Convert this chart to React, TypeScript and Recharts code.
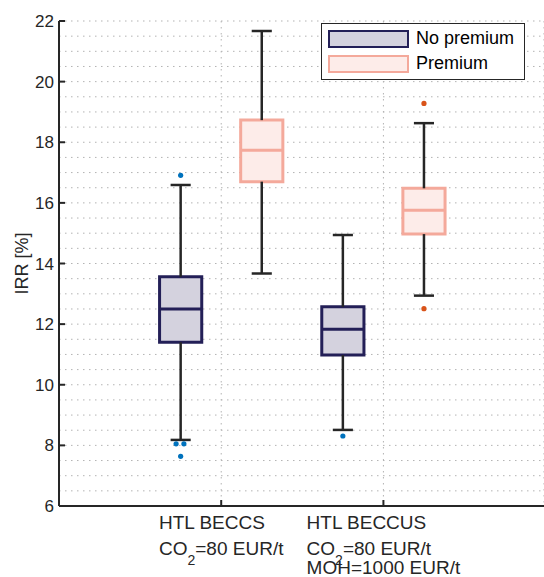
import React from "react";
import {
  ComposedChart,
  XAxis,
  YAxis,
  CartesianGrid,
  ReferenceArea,
  ReferenceLine,
  Scatter,
  Legend,
} from "recharts";

// categories on a numeric x axis (1, 2) so the boxes can sit either side
const categories = [1, 2];
const categoryLabels = [
  ["HTL BECCS", "CO_2=80 EUR/t"],
  ["HTL BECCUS", "CO_2=80 EUR/t", "MOH=1000 EUR/t"],
];
const yTicks = [6, 8, 10, 12, 14, 16, 18, 20, 22];
const gridTicks = [
  6, 6.5, 7, 7.5, 8, 8.5, 9, 9.5, 10, 10.5, 11, 11.5, 12, 12.5, 13, 13.5, 14,
  14.5, 15, 15.5, 16, 16.5, 17, 17.5, 18, 18.5, 19, 19.5, 20, 20.5, 21, 21.5, 22,
];

// [min whisker, q1, median, q3, max whisker] per category
const noPremiumBoxes = [
  [8.18, 11.4, 12.5, 13.56, 16.59],
  [8.51, 10.98, 11.83, 12.57, 14.94],
];
const premiumBoxes = [
  [13.67, 16.7, 17.74, 18.73, 21.67],
  [12.94, 14.97, 15.76, 16.48, 18.63],
];

// outliers: category, value, small jitter seen in the picture
const noPremiumOutliers = [
  { cat: 1, value: 16.91, jitter: 0 },
  { cat: 1, value: 8.05, jitter: -0.028 },
  { cat: 1, value: 8.05, jitter: 0.02 },
  { cat: 1, value: 7.64, jitter: 0 },
  { cat: 2, value: 8.31, jitter: 0 },
];
const premiumOutliers = [
  { cat: 2, value: 19.28, jitter: 0 },
  { cat: 2, value: 12.51, jitter: 0 },
];

const FONT = "'Liberation Sans', Arial, sans-serif";
const INK = "#262626";
const BOX_HALF = 0.13;
const CAP_HALF = 0.062;
const LABEL_SIZE = 19;
const SUB_SIZE = 14;
const SUB_DY = 10;

const series = [
  {
    name: "No premium",
    boxes: noPremiumBoxes,
    outliers: noPremiumOutliers,
    shift: -0.25,
    edge: "#231f57",
    fill: "#d4d2de",
    dot: "#0072bd",
  },
  {
    name: "Premium",
    boxes: premiumBoxes,
    outliers: premiumOutliers,
    shift: 0.25,
    edge: "#f4a99b",
    fill: "#fdece9",
    dot: "#d95319",
  },
];

let ctx: CanvasRenderingContext2D | null = null;
const textWidth = (s: string, size: number) => {
  if (!ctx) ctx = document.createElement("canvas").getContext("2d");
  if (!ctx) return s.length * size * 0.55;
  ctx.font = `${size}px 'Liberation Sans'`;
  return ctx.measureText(s).width;
};

// "CO_2=80" -> [{t:"CO"},{t:"2",sub:true},{t:"=80"}]
const parseLine = (line: string) => {
  const parts = line.split(/_(\d)/);
  return parts
    .map((t, i) => ({ t, sub: i % 2 === 1 }))
    .filter((p) => p.t.length > 0);
};

const LINE_OFFSETS = [23, 49, 68];

const CategoryTick = (props: any) => {
  const { x, y, payload } = props;
  const lines = categoryLabels[categories.indexOf(payload.value)] || [];
  const parsed = lines.map(parseLine);
  const widths = parsed.map((segs) =>
    segs.reduce((w, s) => w + textWidth(s.t, s.sub ? SUB_SIZE : LABEL_SIZE), 0)
  );
  const left = x - Math.max(...widths) / 2;
  return (
    <g>
      {parsed.map((segs, li) => (
        <text
          key={li}
          x={left}
          y={y + LINE_OFFSETS[li]}
          fill={INK}
          fontSize={LABEL_SIZE}
          fontFamily={FONT}
          textAnchor="start"
        >
          {segs.map((s, si) =>
            s.sub ? (
              <tspan key={si} fontSize={SUB_SIZE} dy={SUB_DY}>
                {s.t}
              </tspan>
            ) : (
              <tspan key={si} dy={si > 0 && segs[si - 1].sub ? -SUB_DY : 0}>
                {s.t}
              </tspan>
            )
          )}
        </text>
      ))}
    </g>
  );
};

const LegendBox = (props: any) => {
  const payload = props.payload || [];
  return (
    <div
      style={{
        border: `1px solid ${INK}`,
        background: "#fff",
        padding: "2px 6px 3px 6px",
        fontFamily: FONT,
        fontSize: 18,
        color: "#000",
      }}
    >
      {payload.map((p: any) => {
        const s = series.find((d) => d.name === p.value);
        if (!s) return null;
        return (
          <div
            key={p.value}
            style={{ display: "flex", alignItems: "center", height: 25 }}
          >
            <div
              style={{
                width: 77,
                height: 14,
                border: `2.5px solid ${s.edge}`,
                background: s.fill,
                marginRight: 7,
              }}
            />
            <span>{p.value}</span>
          </div>
        );
      })}
    </div>
  );
};

const Dot = (props: any) => {
  const { cx, cy, fill } = props;
  return <circle cx={cx} cy={cy} r={2.6} fill={fill} />;
};

// minor grid every 0.5, placed through the y axis scale
const minorGrid = ({ yAxis }: any) => {
  const sc = yAxis && yAxis.scale;
  if (!sc) return [];
  const f = typeof sc === "function" ? sc : sc.map;
  return gridTicks.map((t) => f(t));
};

export default function App() {
  const whisker = { stroke: INK, strokeWidth: 2.5 };
  return (
    <div style={{ position: "absolute", left: 0, top: 0, fontFamily: FONT }}>
      <ComposedChart
        width={544}
        height={577}
        margin={{ top: 21, right: 0, left: 0, bottom: 0 }}
      >
        <CartesianGrid
          stroke="#b3b3b3"
          strokeDasharray="1.5 4.5"
          horizontalCoordinatesGenerator={minorGrid}
        />
        <XAxis
          type="number"
          dataKey="x"
          domain={[0, 2.99]}
          ticks={categories}
          allowDataOverflow
          height={71}
          tickSize={-6}
          tickMargin={6}
          tick={<CategoryTick />}
          axisLine={{ stroke: INK, strokeWidth: 2 }}
          tickLine={{ stroke: INK, strokeWidth: 2 }}
        />
        <YAxis
          type="number"
          dataKey="y"
          domain={[6, 22]}
          ticks={yTicks}
          allowDataOverflow
          width={59}
          tickSize={-6}
          tickMargin={11}
          tick={{ fill: INK, fontSize: 17, fontFamily: FONT }}
          axisLine={{ stroke: INK, strokeWidth: 2 }}
          tickLine={{ stroke: INK, strokeWidth: 2 }}
          label={{
            value: "IRR [%]",
            angle: -90,
            position: "center",
            dx: -8,
            fill: INK,
            fontSize: 18,
            fontFamily: FONT,
          }}
        />

        {series.map((s) =>
          s.boxes.map(([lo, q1, med, q3, hi], i) => {
            const cx = categories[i] + s.shift;
            return (
              <React.Fragment key={`${s.name}-${i}`}>
                <ReferenceLine
                  segment={[{ x: cx, y: q3 }, { x: cx, y: hi }]}
                  {...whisker}
                />
                <ReferenceLine
                  segment={[{ x: cx, y: lo }, { x: cx, y: q1 }]}
                  {...whisker}
                />
                <ReferenceLine
                  segment={[
                    { x: cx - CAP_HALF, y: hi },
                    { x: cx + CAP_HALF, y: hi },
                  ]}
                  {...whisker}
                />
                <ReferenceLine
                  segment={[
                    { x: cx - CAP_HALF, y: lo },
                    { x: cx + CAP_HALF, y: lo },
                  ]}
                  {...whisker}
                />
                <ReferenceArea
                  x1={cx - BOX_HALF}
                  x2={cx + BOX_HALF}
                  y1={q1}
                  y2={q3}
                  fill={s.fill}
                  fillOpacity={1}
                  stroke={s.edge}
                  strokeWidth={3}
                />
                <ReferenceLine
                  segment={[
                    { x: cx - BOX_HALF, y: med },
                    { x: cx + BOX_HALF, y: med },
                  ]}
                  stroke={s.edge}
                  strokeWidth={3}
                />
              </React.Fragment>
            );
          })
        )}

        {series.map((s) => (
          <Scatter
            key={s.name}
            name={s.name}
            data={s.outliers.map((o) => ({
              x: o.cat + s.shift + o.jitter,
              y: o.value,
            }))}
            fill={s.dot}
            shape={<Dot />}
            isAnimationActive={false}
          />
        ))}

        <Legend
          layout="vertical"
          align="center"
          verticalAlign="middle"
          content={<LegendBox />}
          wrapperStyle={{ left: 321, top: 23, width: 204 }}
        />
      </ComposedChart>
    </div>
  );
}
